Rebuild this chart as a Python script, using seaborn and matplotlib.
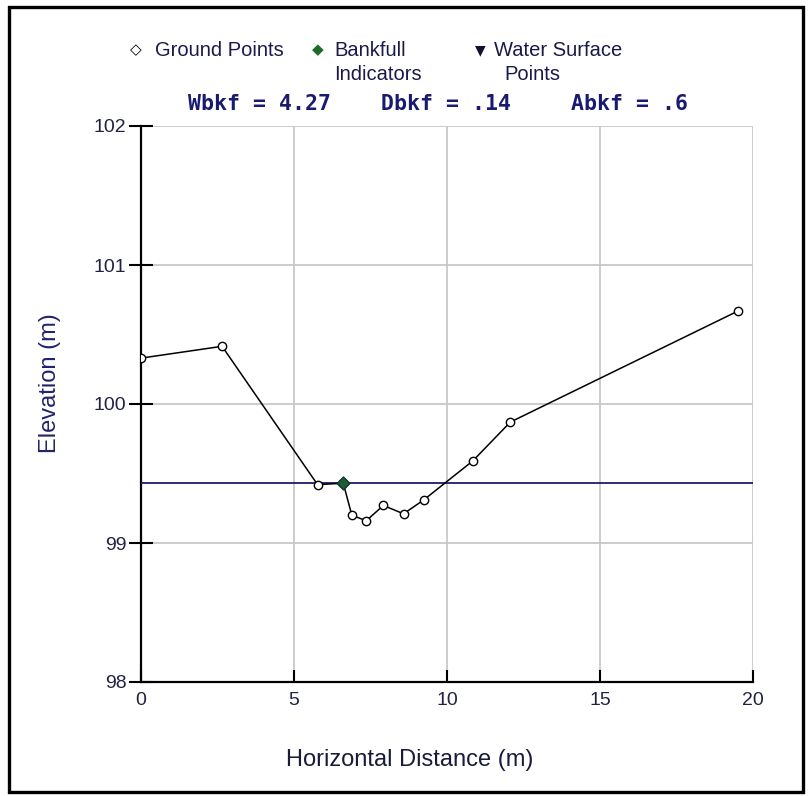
import matplotlib
matplotlib.use("Agg")
import matplotlib.pyplot as plt
import seaborn as sns
import pandas as pd
from matplotlib.patches import Rectangle

# ---- data ----
ground_x = [0.0, 2.65, 5.77, 6.61, 6.89, 7.36, 7.92, 8.58, 9.24, 10.84, 12.07, 19.52]
ground_y = [100.33, 100.415, 99.42, 99.43, 99.20, 99.16, 99.27, 99.21, 99.31, 99.59, 99.87, 100.67]
bankfull_x = [6.61]
bankfull_y = [99.43]
water_surface_elev = 99.434
x_ticks = [0, 5, 10, 15, 20]
y_ticks = [98, 99, 100, 101, 102]
stats = ["Wbkf = 4.27", "Dbkf = .14", "Abkf = .6"]

sns.set_theme(style="white")
plt.rcParams['font.family'] = ['Liberation Sans', 'DejaVu Sans']

W, H = 809, 796
fig = plt.figure(figsize=(W / 100, H / 100), dpi=100)
fig.patch.set_facecolor("white")

def fx(px):
    return px / W

def fy(py):
    return 1 - py / H

ax_l, ax_r, ax_t, ax_b = 141, 753, 126, 682
ax = fig.add_axes([fx(ax_l), fy(ax_b), (ax_r - ax_l) / W, (ax_b - ax_t) / H])
ax.set_facecolor("white")

df = pd.DataFrame({"x": ground_x, "y": ground_y})
sns.lineplot(data=df, x="x", y="y", sort=False, color="black", linewidth=1.1,
             marker="o", markersize=6, markerfacecolor="white",
             markeredgecolor="black", markeredgewidth=1.0, ax=ax, zorder=4)
ax.axhline(water_surface_elev, color="#1c1c6e", linewidth=1.3, zorder=3)
sns.scatterplot(x=bankfull_x, y=bankfull_y, marker="D", s=45, color="#1e5b3a",
                edgecolor="#0f3020", linewidth=0.8, ax=ax, zorder=5)

ax.set_xlim(0, 20)
ax.set_ylim(98, 102)
ax.set_xticks(x_ticks)
ax.set_yticks(y_ticks)
ax.set_xticklabels([str(t) for t in x_ticks])
ax.set_yticklabels([str(t) for t in y_ticks])
ax.grid(True, color="#c8c8c8", linewidth=1.3)
ax.set_axisbelow(True)
for s in ["top", "right"]:
    ax.spines[s].set_visible(False)
for s in ["left", "bottom"]:
    ax.spines[s].set_color("black")
    ax.spines[s].set_linewidth(1.6)
ax.tick_params(axis="y", direction="inout", length=17, width=1.5, color="black",
               labelsize=14, pad=2, labelcolor="#222244", left=True)
ax.tick_params(axis="x", direction="in", length=9, width=1.5, color="black",
               labelsize=14, pad=7, labelcolor="#222244", bottom=True)

ax.set_xlabel("Horizontal Distance (m)", fontsize=17, color="#1a1a3a")
ax.set_ylabel("Elevation (m)", fontsize=17, color="#23236b")
ax.xaxis.set_label_coords((410 - ax_l) / (ax_r - ax_l), (ax_b - 760) / (ax_b - ax_t))
ax.yaxis.set_label_coords((50 - ax_l) / (ax_r - ax_l), (ax_b - 383) / (ax_b - ax_t))
ax.xaxis.label.set_va("center")
ax.yaxis.label.set_va("center")

# ---- legend (manual) ----
leg_color = "#1a1a4a"
fig.text(fx(136), fy(50), "\u25C7", fontsize=11, ha="center", va="center",
         color="black", family=["DejaVu Sans"])
fig.text(fx(155), fy(51), "Ground Points", fontsize=14.5, ha="left", va="center", color=leg_color)
fig.text(fx(318), fy(50), "\u25C6", fontsize=11, ha="center", va="center",
         color="#1e6b2a", family=["DejaVu Sans"])
fig.text(fx(334), fy(51), "Bankfull", fontsize=14.5, ha="left", va="center", color=leg_color)
fig.text(fx(334), fy(74), "Indicators", fontsize=14.5, ha="left", va="center", color=leg_color)
fig.text(fx(480), fy(50), "\u25BC", fontsize=10, ha="center", va="center",
         color="#101030", family=["DejaVu Sans"])
fig.text(fx(494), fy(51), "Water Surface", fontsize=14.5, ha="left", va="center", color=leg_color)
fig.text(fx(504), fy(74), "Points", fontsize=14.5, ha="left", va="center", color=leg_color)

# ---- bankfull stats ----
stat_x = [188, 381, 571]
for sx, st in zip(stat_x, stats):
    fig.text(fx(sx), fy(104), st, fontsize=15.5, ha="left", va="center",
             color="#1a1a70", family=["DejaVu Sans Mono"], fontweight="bold")

# ---- frame border ----
fig.patches.append(Rectangle((fx(8.5), fy(792)), fx(803 - 8.5), (792 - 6.5) / H,
                             transform=fig.transFigure, fill=False,
                             edgecolor="black", linewidth=2.4, zorder=10))

fig.savefig("out.png", dpi=100, facecolor="white")
